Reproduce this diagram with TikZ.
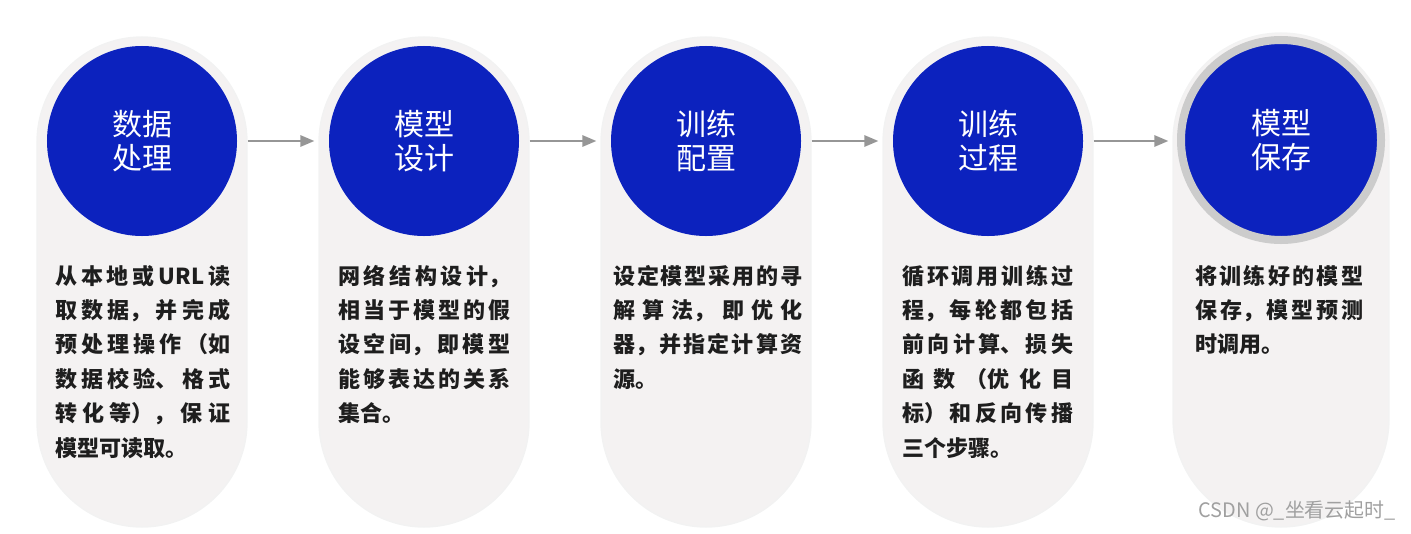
\documentclass[tikz,border=0pt]{standalone}
\usepackage{fontspec}
\newfontfamily\cjk{Noto Sans CJK SC}
\usetikzlibrary{positioning, arrows.meta}
\definecolor{stepblue}{RGB}{12,34,190}
\definecolor{pillgray}{RGB}{244,242,242}
\definecolor{ringgray}{RGB}{204,204,204}
\definecolor{linkgray}{RGB}{150,150,150}
\definecolor{bodytext}{RGB}{30,30,30}
\definecolor{markgray}{RGB}{160,160,160}
\XeTeXlinebreaklocale "zh"
\XeTeXlinebreakskip=0pt plus 10pt\relax
\tolerance=10000\relax

\begin{document}
\begin{tikzpicture}[x=0.03cm, y=-0.03cm,
    pill/.style={fill=pillgray, draw=black!5, line width=0.04cm, inner sep=0pt,
        minimum width=6.3cm, minimum height=14.7cm, rounded corners=3.15cm},
    title/.style={circle, fill=stepblue, text=white, inner sep=0pt, minimum size=5.7cm,
        align=center, font=\cjk\fontsize{25.6pt}{29pt}\selectfont},
    body/.style={anchor=base west, inner sep=0pt, text=bodytext, align=justify,
        font=\cjk\bfseries\fontsize{18.8pt}{29.4pt}\selectfont},
    flow/.style={linkgray, line width=0.06cm, shorten >=0.12cm,
        -{Triangle[length=0.42cm, width=0.34cm]}},
    wmark/.style={anchor=base east, inner sep=0pt, text=markgray,
        font=\cjk\fontsize{17pt}{20pt}\selectfont}]
    \useasboundingbox (0,0) rectangle (1411,533);

    % pills
    \node[pill] (p1) at (142,282) {};
    \node[pill] (p2) at (424,282) {};
    \node[pill] (p3) at (706,282) {};
    \node[pill] (p4) at (988,282) {};
    \node[pill, minimum width=6.48cm, minimum height=14.82cm, rounded corners=3.24cm] (p5) at (1281,280) {};

    % circles
    \node[title] (c1) at (142,141) {数据\\处理};
    \node[title] (c2) at (424,141) {模型\\设计};
    \node[title] (c3) at (706,141) {训练\\配置};
    \node[title] (c4) at (988,141) {训练\\过程};
    \node[title, draw=ringgray, line width=0.24cm, minimum size=6.0cm] (c5) at (1281,140) {模型\\保存};

    % arrows
    \foreach \a/\b in {1/2, 2/3, 3/4, 4/5}
        \draw[flow] (p\a.east |- c1.center) -- (p\b.west |- c1.center);

    % descriptions
    \node[body, text width=5.25cm] (t1) at (55,284)
        {从本地或URL读\break 取数据，并完成\break 预处理操作（如\break 数据校验、格式\break 转化等），保证\break 模型可读取。};
    \node[body, text width=5.16cm] (t2) at (338,284)
        {网络结构设计，\break 相当于模型的假\break 设空间，即模型\break 能够表达的关系\break 集合。};
    \node[body, text width=5.67cm] (t3) at (613,284)
        {设定模型采用的寻\break 解算法，即优化\break 器，并指定计算资\break 源。};
    \node[body, text width=5.13cm] (t4) at (902,284)
        {循环调用训练过\break 程，每轮都包括\break 前向计算、损失\break 函数（优化目\break 标）和反向传播\break 三个步骤。};
    \node[body, text width=5.04cm] (t5) at (1195,284)
        {将训练好的模型\break 保存，模型预测\break 时调用。};

    % watermark
    \node[wmark] (wm) at (1396,517) {CSDN @\_坐看云起时\_};
\end{tikzpicture}
\end{document}
